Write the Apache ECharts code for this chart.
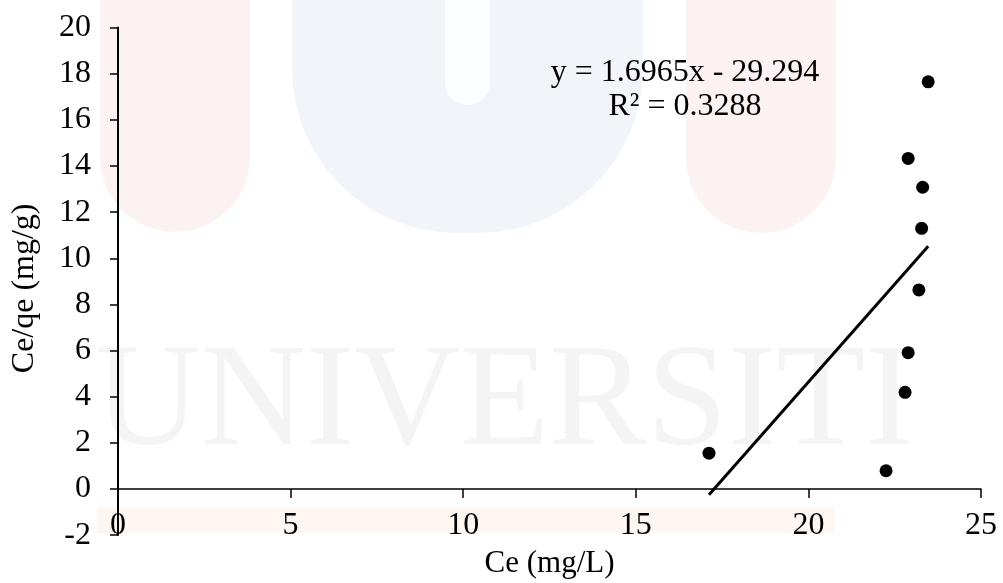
<!DOCTYPE html>
<html>
<head>
<meta charset="utf-8">
<script src="https://cdn.jsdelivr.net/npm/echarts@6/dist/echarts.min.js"></script>
<style>
html,body{margin:0;padding:0;background:#fff;}
#chart{width:1003px;height:583px;}
</style>
</head>
<body>
<div id="chart"></div>
<script>
// Data
const ceValues = [17.12, 22.25, 22.80, 22.89, 23.20, 23.28, 23.31, 22.89, 23.47];
const ceQeValues = [1.55, 0.79, 4.19, 5.91, 8.63, 11.30, 13.08, 14.33, 17.65];
const trendSlope = 1.6965;
const trendIntercept = -29.294;
const equationLines = ['y = 1.6965x - 29.294', 'R\u00B2 = 0.3288'];
const xAxisRange = [0, 25, 5];
const yAxisRange = [-2, 20, 2];
const xAxisTitle = 'Ce (mg/L)';
const yAxisTitle = 'Ce/qe (mg/g)';
const watermarkText = 'UNIVERSITI';

const FONT = "'Liberation Serif', 'Times New Roman', serif";
const points = ceValues.map((x, i) => [x, ceQeValues[i]]);
const xMin = Math.min(...ceValues), xMax = Math.max(...ceValues);
const trendPoints = [xMin, xMax].map(x => [x, trendSlope * x + trendIntercept]);

const chart = echarts.init(document.getElementById('chart'), null, {renderer: 'canvas'});
const baseX = {
  type: 'value', min: xAxisRange[0], max: xAxisRange[1], interval: xAxisRange[2],
  splitLine: {show: false}
};
chart.setOption({
  animation: false,
  backgroundColor: '#ffffff',
  textStyle: {fontFamily: FONT},
  grid: {left: 118, top: 27.6, width: 863, height: 507.5, containLabel: false, outerBoundsMode: 'none'},
  graphic: [
    {type: 'rect', z: -100, silent: true, shape: {x: 100, y: -20, width: 150, height: 252, r: [0, 0, 75, 75]}, style: {fill: '#fdf2f2'}},
    {type: 'rect', z: -100, silent: true, shape: {x: 686, y: -20, width: 150, height: 253, r: [0, 0, 75, 75]}, style: {fill: '#fdf2f2'}},
    {type: 'rect', z: -100, silent: true, shape: {x: 292, y: -20, width: 351, height: 253, r: [0, 0, 165, 165]}, style: {fill: '#f1f5f9'}},
    {type: 'rect', z: -99, silent: true, shape: {x: 445, y: -20, width: 45, height: 125, r: [0, 0, 22, 22]}, style: {fill: '#fcfdfe'}},
    {type: 'rect', z: -100, silent: true, shape: {x: 97, y: 507, width: 738, height: 26}, style: {fill: '#fef7f1'}},
    {type: 'text', z: -99, silent: true, left: 95, top: 333,
      style: {text: watermarkText, font: '146px ' + FONT, fill: '#f4f4f4'}},
    {type: 'text', z: 10, x: 685, y: 73,
      style: {text: equationLines[0], font: '32px ' + FONT, fill: '#000', align: 'center', verticalAlign: 'middle'}},
    {type: 'text', z: 10, x: 685, y: 107,
      style: {text: equationLines[1], font: '32px ' + FONT, fill: '#000', align: 'center', verticalAlign: 'middle'}}
  ],
  xAxis: [
    Object.assign({}, baseX, {
      position: 'bottom',
      axisLine: {show: true, onZero: true, lineStyle: {color: '#000', width: 1.5}},
      axisTick: {show: true, inside: false, length: 9, lineStyle: {color: '#000', width: 1.5}},
      axisLabel: {show: false}
    }),
    Object.assign({}, baseX, {
      position: 'bottom',
      axisLine: {show: false, onZero: false},
      axisTick: {show: false},
      axisLabel: {show: true, margin: -26, color: '#000', fontSize: 32, fontFamily: FONT},
      name: xAxisTitle, nameLocation: 'middle', nameGap: 13,
      nameTextStyle: {color: '#000', fontSize: 31, fontFamily: FONT}
    })
  ],
  yAxis: {
    type: 'value', min: yAxisRange[0], max: yAxisRange[1], interval: yAxisRange[2],
    axisLine: {show: true, onZero: false, lineStyle: {color: '#000', width: 2}},
    axisTick: {show: true, inside: false, length: 8, lineStyle: {color: '#000', width: 1.5}},
    axisLabel: {margin: 27, color: '#000', fontSize: 32, fontFamily: FONT},
    splitLine: {show: false},
    name: yAxisTitle, nameLocation: 'middle', nameGap: 77,
    nameTextStyle: {color: '#000', fontSize: 32, fontFamily: FONT, padding: [0, 14, 0, 0]}
  },
  series: [
    {type: 'line', xAxisIndex: 0, data: trendPoints, symbol: 'none', z: 3,
      lineStyle: {color: '#000', width: 3}},
    {type: 'scatter', xAxisIndex: 0, data: points, symbol: 'circle', symbolSize: 13, z: 4,
      itemStyle: {color: '#000', opacity: 1}}
  ]
});
</script>
</body>
</html>
